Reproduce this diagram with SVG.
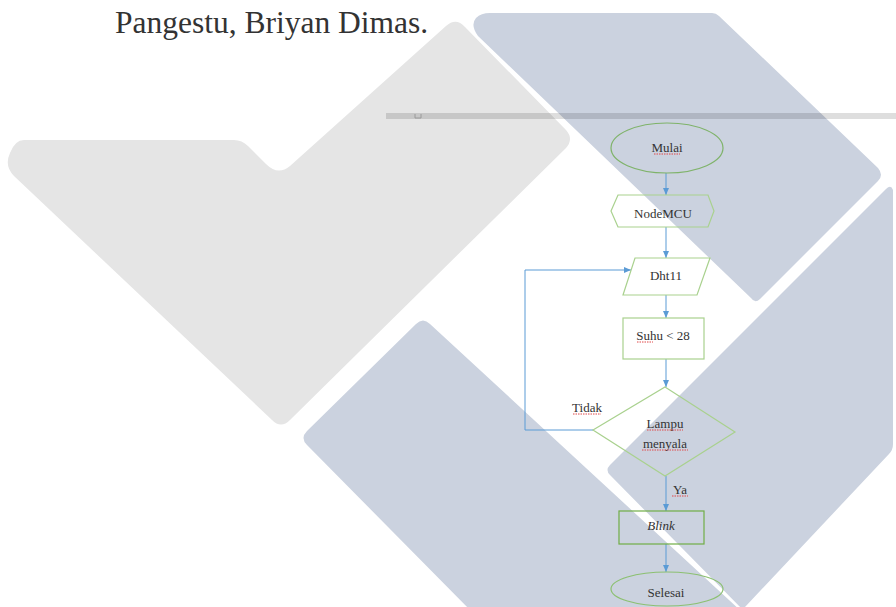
<svg xmlns="http://www.w3.org/2000/svg" width="896" height="607" viewBox="0 0 896 607">
  <defs>
    <style>
      .wm-gray { fill: #e5e5e5; }
      .wm-blue { fill: #cbd2df; }
      .node { fill: none; stroke: #a9d18e; stroke-width: 1.2; }
      .node-dark { fill: none; stroke: #7fb36a; stroke-width: 1.2; }
      .lbl { font-family: "Liberation Serif", "Times New Roman", serif; font-size: 13px; fill: #333; text-anchor: middle; }
      .conn { fill: none; stroke: #5b9bd5; stroke-width: 1; }
      .spell { fill: none; stroke: #e04848; stroke-width: 1; stroke-dasharray: 1.5 1; }
    </style>
    <marker id="ah" markerWidth="8" markerHeight="8" refX="7" refY="4" orient="auto" markerUnits="userSpaceOnUse">
      <path d="M0,1 L7,4 L0,7 Z" fill="#5b9bd5"/>
    </marker>
  </defs>

  <rect width="896" height="607" fill="#ffffff"/>

  <!-- watermark shapes -->
  <g id="watermark">
    <path class="wm-gray" d="M 24,140 L 234,140 Q 242,140 248,146 L 266,164 Q 278,176 290,166 L 446,26 Q 456,17 465,27 L 566,130 Q 574,139 566,148 L 290,420 Q 281,429 272,420 L 14,176 Q 4,166 10,153 Q 15,140 24,140 Z"/>
    <path class="wm-blue" d="M 490,13 L 712,13 Q 716,13 719,16 L 878,168 Q 884,175 878,181 L 760,299 Q 755,304 751,298 L 478,36 Q 470,25 476,18 Q 481,13 490,13 Z"/>
    <path class="wm-blue" d="M 610,465 L 886,189 Q 891,184 893,190 L 893,444 Q 893,450 889,454 L 745,607 L 745,612 L 610,475 Q 605,470 610,465 Z"/>
    <path class="wm-blue" d="M 416,324 Q 423,317 430,324 L 742,612 L 472,612 L 307,445 Q 300,438 307,431 Z"/>
  </g>

  <!-- title text -->
  <text x="115" y="33" font-family="'Liberation Serif', 'Times New Roman', serif" font-size="31.5" fill="#333">Pangestu, Briyan Dimas.</text>

  <!-- embedded image top bar -->
  <rect x="386" y="113" width="510" height="6" fill="#000" opacity="0.13"/>
  <path d="M415,114 V118 H421 V114" fill="none" stroke="#9a9a9a" stroke-width="1"/>

  <!-- connectors -->
  <g id="connectors">
    <path class="conn" d="M666,173 V195" marker-end="url(#ah)"/>
    <path class="conn" d="M666,227 V258" marker-end="url(#ah)"/>
    <path class="conn" d="M666,295 V318" marker-end="url(#ah)"/>
    <path class="conn" d="M666,359 V387" marker-end="url(#ah)"/>
    <path class="conn" d="M593,430 H525 V270 H631" marker-end="url(#ah)"/>
    <path class="conn" d="M666,476 V511" marker-end="url(#ah)"/>
    <path class="conn" d="M666,544 V572" marker-end="url(#ah)"/>
    <text class="lbl" x="587" y="412">Tidak</text>
    <path class="spell" d="M573,414 H601"/>
    <text class="lbl" x="680" y="494">Ya</text>
    <path class="spell" d="M672,496 H688"/>
  </g>

  <!-- nodes -->
  <g id="node-mulai">
    <ellipse class="node-dark" cx="667" cy="148" rx="56" ry="25"/>
    <text class="lbl" x="667" y="152">Mulai</text>
    <path class="spell" d="M654,154 H680"/>
  </g>

  <g id="node-nodemcu">
    <path class="node" d="M618,195 H708 L714,211 L708,227 H618 L611,211 Z"/>
    <text class="lbl" x="663" y="218">NodeMCU</text>
  </g>

  <g id="node-dht11">
    <path class="node" d="M635,258 H710 L697,295 H623 Z"/>
    <text class="lbl" x="666" y="280">Dht11</text>
  </g>

  <g id="node-suhu">
    <rect class="node" x="623" y="318" width="81" height="41"/>
    <text class="lbl" x="663" y="340">Suhu &lt; 28</text>
    <path class="spell" d="M637,342 H653"/>
  </g>

  <g id="node-lampu">
    <path class="node" d="M665,387 L735,432 L665,476 L593,430 Z"/>
    <text class="lbl" x="665" y="428">Lampu</text>
    <path class="spell" d="M647,430 H683"/>
    <text class="lbl" x="665" y="448">menyala</text>
    <path class="spell" d="M642,450 H688"/>
  </g>

  <g id="node-blink">
    <rect fill="none" stroke="#70ad47" stroke-width="1.2" x="619" y="511" width="85" height="33"/>
    <text class="lbl" x="661" y="530" font-style="italic">Blink</text>
  </g>

  <g id="node-selesai">
    <ellipse fill="none" stroke="#8cc071" stroke-width="1.2" cx="667" cy="589" rx="56" ry="17"/>
    <text class="lbl" x="666" y="597">Selesai</text>
  </g>
</svg>
